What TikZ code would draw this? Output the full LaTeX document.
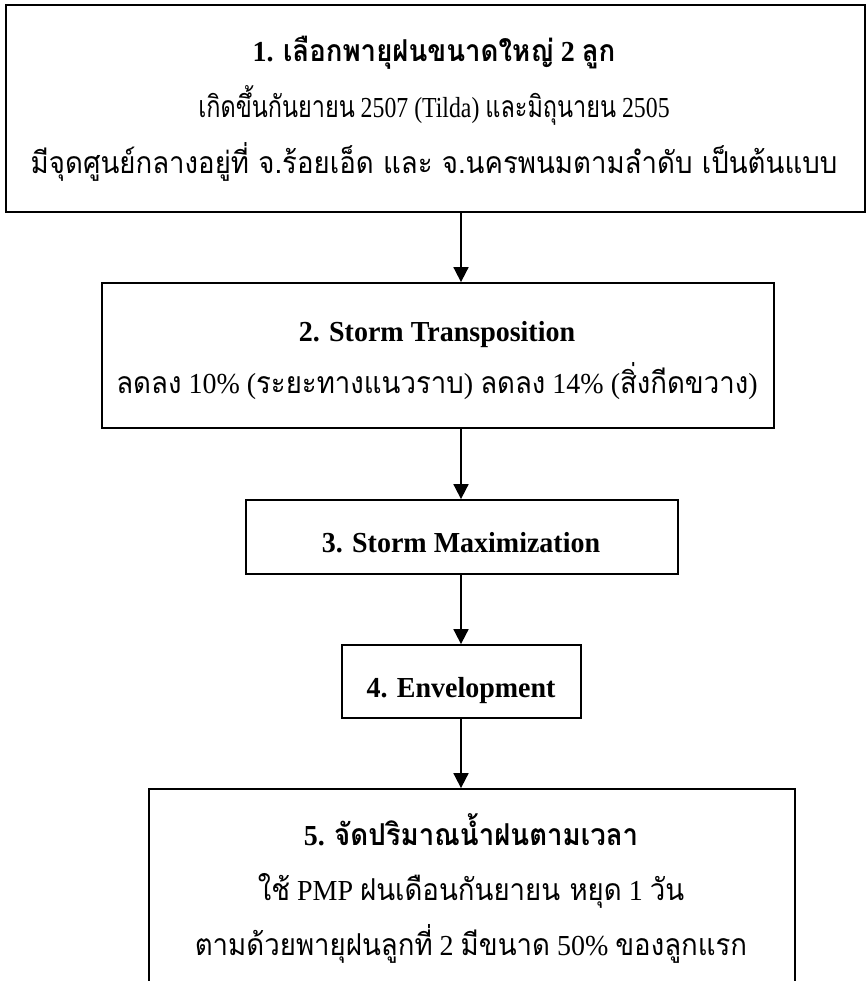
\documentclass[tikz,border=0pt]{standalone}
\usepackage{graphicx}
\usepackage{fontspec}
\setmainfont[FakeStretch=0.965]{Liberation Serif}
\newfontfamily\thaifont[Script=Thai,Scale=1.04,FakeStretch=0.915]{Loma}
\newcommand{\thx}[1]{{\thaifont #1}}
\usetikzlibrary{arrows.meta}
\begin{document}
\begin{tikzpicture}[x=1pt,y=-1pt,
  box/.style={draw, line width=1.8pt, inner sep=0pt},
  ln/.style={anchor=base, inner sep=0pt, font=\fontsize{29}{34}\selectfont},
  arr/.style={draw, line width=1.8pt, -{Triangle[length=15pt,width=15pt]}},
]
\useasboundingbox (0,0) rectangle (867,981);
\clip (0,0) rectangle (867,981);
\coordinate (ax) at (461,0);
% boxes
\node[box, minimum width=859pt, minimum height=207pt] (b1) at (435.5,108.5) {};
\node[box, minimum width=672pt, minimum height=145pt] (b2) at (438,355.5) {};
\node[box, minimum width=432pt, minimum height=74pt] (b3) at (462,537) {};
\node[box, minimum width=239pt, minimum height=73pt] (b4) at (461.5,681.5) {};
\node[box, minimum width=646pt, minimum height=201pt] (b5) at (472,889.5) {};
% texts
\node[ln] (l11) at (434,62) {\textbf{1. \thx{\bfseries เลือกพายุฝนขนาดใหญ่} 2 \thx{\bfseries ลูก}}};
\node[ln] (l12) at (434,118) {\scalebox{0.85}[1]{\thx{เกิดขึ้นกันยายน} 2507 (Tilda) \thx{และมิถุนายน} 2505}};
\node[ln] (l13) at (434,174) {\thx{มีจุดศูนย์กลางอยู่ที่ จ.ร้อยเอ็ด และ จ.นครพนมตามลำดับ เป็นต้นแบบ}};
\node[ln] (l21) at (437,341) {\textbf{2. Storm Transposition}};
\node[ln] (l22) at (437,393) {\thx{ลดลง} 10\% (\thx{ระยะทางแนวราบ}) \thx{ลดลง} 14\% (\thx{สิ่งกีดขวาง})};
\node[ln] (l31) at (461,552) {\textbf{3. Storm Maximization}};
\node[ln] (l41) at (461,697) {\textbf{4. Envelopment}};
\node[ln] (l51) at (471,845) {\textbf{5. \thx{\bfseries จัดปริมาณน้ำฝนตามเวลา}}};
\node[ln] (l52) at (471,900) {\thx{ใช้} PMP \thx{ฝนเดือนกันยายน หยุด} 1 \thx{วัน}};
\node[ln] (l53) at (471,955) {\thx{ตามด้วยพายุฝนลูกที่} 2 \thx{มีขนาด} 50\% \thx{ของลูกแรก}};
% connectors
\draw[arr] (b1.south -| ax) -- (b2.north -| ax);
\draw[arr] (b2.south -| ax) -- (b3.north -| ax);
\draw[arr] (b3.south -| ax) -- (b4.north -| ax);
\draw[arr] (b4.south -| ax) -- (b5.north -| ax);
\end{tikzpicture}
\end{document}
